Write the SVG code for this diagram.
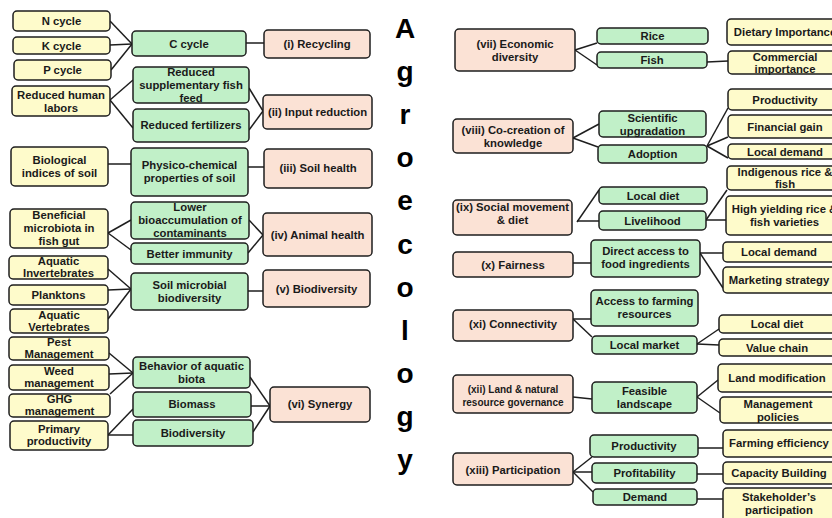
<svg xmlns="http://www.w3.org/2000/svg" width="832" height="518" viewBox="0 0 832 518">
<style>
rect{stroke:#1e1e1e;stroke-width:1.5;rx:4;ry:4}
.y{fill:#FEFBCB}
.g{fill:#C1F0C8}
.p{fill:#FBE2D5}
text{font-family:"Liberation Sans",Arial,sans-serif;font-weight:bold;font-size:11.3px;fill:#1a1a1a;text-anchor:middle;dominant-baseline:central}
.sm{font-size:10px}
.big{font-size:28px;fill:#000;dominant-baseline:auto}
#connectors line{stroke:#1e1e1e;stroke-width:1.5}
</style>
<rect x="0" y="0" width="832" height="518" fill="#fff" style="stroke:none"/>
<g id="connectors">
<line x1="110" y1="21" x2="132" y2="44"/><line x1="110" y1="45" x2="132" y2="44"/><line x1="111" y1="70" x2="132" y2="44"/>
<line x1="246" y1="43" x2="264" y2="43"/>
<line x1="110" y1="100" x2="133" y2="80"/><line x1="110" y1="100" x2="133" y2="128"/>
<line x1="249" y1="88" x2="263" y2="111"/><line x1="249" y1="130" x2="263" y2="111"/>
<line x1="108" y1="164" x2="131" y2="164"/><line x1="248" y1="167" x2="264" y2="167"/>
<line x1="108" y1="233" x2="131" y2="220"/><line x1="108" y1="233" x2="131" y2="250"/>
<line x1="249" y1="220" x2="263" y2="235"/><line x1="248" y1="253" x2="263" y2="235"/>
<line x1="108" y1="269" x2="131" y2="289"/><line x1="108" y1="290" x2="131" y2="289"/><line x1="108" y1="319" x2="131" y2="289"/>
<line x1="248" y1="291" x2="263" y2="291"/>
<line x1="109" y1="353" x2="133" y2="373"/><line x1="109" y1="374" x2="133" y2="373"/><line x1="110" y1="394" x2="133" y2="373"/>
<line x1="250" y1="377" x2="270" y2="406"/><line x1="251" y1="406" x2="270" y2="406"/><line x1="253" y1="432" x2="270" y2="406"/>
<line x1="108" y1="435" x2="133" y2="409"/><line x1="108" y1="435" x2="133" y2="435"/>
<line x1="575" y1="50" x2="597" y2="43"/><line x1="575" y1="50" x2="597" y2="65"/>
<line x1="707" y1="62" x2="728" y2="61"/>
<line x1="573" y1="138" x2="599" y2="124"/><line x1="573" y1="138" x2="598" y2="147"/>
<line x1="707" y1="146" x2="728" y2="108"/><line x1="707" y1="146" x2="728" y2="137"/><line x1="707" y1="146" x2="728" y2="158"/>
<line x1="577" y1="222" x2="599" y2="190"/><line x1="577" y1="221" x2="599" y2="221"/>
<line x1="706" y1="220" x2="727" y2="190"/><line x1="706" y1="220" x2="726" y2="220"/>
<line x1="573" y1="263" x2="591" y2="263"/>
<line x1="700" y1="253" x2="723" y2="253"/><line x1="700" y1="253" x2="723" y2="288"/>
<line x1="568" y1="319" x2="593" y2="319"/><line x1="573" y1="319" x2="592" y2="337"/>
<line x1="697" y1="344" x2="719" y2="329"/><line x1="697" y1="344" x2="719" y2="345"/>
<line x1="573" y1="397" x2="592" y2="399"/>
<line x1="697" y1="397" x2="718" y2="380"/><line x1="697" y1="397" x2="720" y2="413"/>
<line x1="573" y1="472" x2="592" y2="457"/><line x1="573" y1="472" x2="592" y2="472"/><line x1="573" y1="472" x2="593" y2="492"/>
<line x1="698" y1="448" x2="723" y2="448"/><line x1="697" y1="474" x2="723" y2="474"/><line x1="697" y1="499" x2="723" y2="499"/>
</g>
<g id="n-cycle"><rect class="y" x="13" y="11" width="97" height="20"/><text x="61.5" y="21">N cycle</text></g>
<g id="k-cycle"><rect class="y" x="13" y="37" width="97" height="17"/><text x="61.5" y="45.5">K cycle</text></g>
<g id="p-cycle"><rect class="y" x="14" y="60" width="97" height="20"/><text x="62.5" y="70">P cycle</text></g>
<g id="reduced-human-labors"><rect class="y" x="12" y="86" width="98" height="30"/><text><tspan x="61" y="94.5">Reduced human</tspan><tspan x="61" y="107.5">labors</tspan></text></g>
<g id="biological-indices"><rect class="y" x="11" y="147" width="97" height="39"/><text><tspan x="59.5" y="159.5">Biological</tspan><tspan x="59.5" y="172.5">indices of soil</tspan></text></g>
<g id="beneficial-microbiota"><rect class="y" x="10" y="209" width="98" height="39"/><text><tspan x="59" y="215">Beneficial</tspan><tspan x="59" y="228">microbiota in</tspan><tspan x="59" y="241">fish gut</tspan></text></g>
<g id="aquatic-invertebrates"><rect class="y" x="9" y="256" width="99" height="23"/><text><tspan x="58.5" y="261">Aquatic</tspan><tspan x="58.5" y="273">Invertebrates</tspan></text></g>
<g id="planktons"><rect class="y" x="9" y="285" width="99" height="20"/><text x="58.5" y="295">Planktons</text></g>
<g id="aquatic-vertebrates"><rect class="y" x="10" y="309" width="98" height="24"/><text><tspan x="59" y="315">Aquatic</tspan><tspan x="59" y="327">Vertebrates</tspan></text></g>
<g id="pest-management"><rect class="y" x="9" y="337" width="100" height="23"/><text><tspan x="59" y="342">Pest</tspan><tspan x="59" y="354">Management</tspan></text></g>
<g id="weed-management"><rect class="y" x="9" y="365" width="100" height="25"/><text><tspan x="59" y="371">Weed</tspan><tspan x="59" y="383">management</tspan></text></g>
<g id="ghg-management"><rect class="y" x="9" y="394" width="101" height="23"/><text><tspan x="59.5" y="399">GHG</tspan><tspan x="59.5" y="411">management</tspan></text></g>
<g id="primary-productivity"><rect class="y" x="10" y="421" width="98" height="29"/><text><tspan x="59" y="429">Primary</tspan><tspan x="59" y="441">productivity</tspan></text></g>
<g id="c-cycle"><rect class="g" x="132" y="31" width="114" height="25"/><text x="189" y="43.5">C cycle</text></g>
<g id="reduced-fish-feed"><rect class="g" x="133" y="67" width="116" height="36"/><text><tspan x="191" y="72">Reduced</tspan><tspan x="191" y="85">supplementary fish</tspan><tspan x="191" y="98">feed</tspan></text></g>
<g id="reduced-fertilizers"><rect class="g" x="133" y="109" width="116" height="33"/><text x="191" y="125">Reduced fertilizers</text></g>
<g id="physico-chemical"><rect class="g" x="131" y="148" width="117" height="48"/><text><tspan x="189.5" y="165">Physico-chemical</tspan><tspan x="189.5" y="178">properties of soil</tspan></text></g>
<g id="lower-bioaccumulation"><rect class="g" x="131" y="202" width="118" height="37"/><text><tspan x="190" y="207">Lower</tspan><tspan x="190" y="220">bioaccumulation of</tspan><tspan x="190" y="233">contaminants</tspan></text></g>
<g id="better-immunity"><rect class="g" x="131" y="243" width="117" height="21"/><text x="189.5" y="253.5">Better immunity</text></g>
<g id="soil-microbial"><rect class="g" x="131" y="273" width="117" height="37"/><text><tspan x="189.5" y="284.5">Soil microbial</tspan><tspan x="189.5" y="297.5">biodiversity</tspan></text></g>
<g id="behavior-aquatic-biota"><rect class="g" x="133" y="357" width="117" height="31"/><text><tspan x="191.5" y="365.5">Behavior of aquatic</tspan><tspan x="191.5" y="378.5">biota</tspan></text></g>
<g id="biomass"><rect class="g" x="133" y="392" width="118" height="25"/><text x="192" y="404">Biomass</text></g>
<g id="biodiversity-g"><rect class="g" x="133" y="420" width="120" height="26"/><text x="193" y="432.5">Biodiversity</text></g>
<g id="recycling"><rect class="p" x="264" y="30" width="106" height="28"/><text x="317" y="44">(i) Recycling</text></g>
<g id="input-reduction"><rect class="p" x="263" y="95" width="109" height="34"/><text x="317.5" y="112">(ii) Input reduction</text></g>
<g id="soil-health"><rect class="p" x="264" y="149" width="108" height="39"/><text x="318" y="168">(iii) Soil health</text></g>
<g id="animal-health"><rect class="p" x="263" y="213" width="109" height="43"/><text x="317.5" y="234.5">(iv) Animal health</text></g>
<g id="biodiversity-p"><rect class="p" x="263" y="270" width="107" height="37"/><text x="316.5" y="288.5">(v) Biodiversity</text></g>
<g id="synergy"><rect class="p" x="270" y="387" width="100" height="35"/><text x="320" y="404">(vi) Synergy</text></g>
<g id="title"><text class="big"><tspan x="405" y="38">A</tspan><tspan x="405" y="81.1">g</tspan><tspan x="405" y="124.2">r</tspan><tspan x="405" y="167.3">o</tspan><tspan x="405" y="210.4">e</tspan><tspan x="405" y="253.5">c</tspan><tspan x="405" y="296.6">o</tspan><tspan x="405" y="339.7">l</tspan><tspan x="405" y="382.8">o</tspan><tspan x="405" y="425.9">g</tspan><tspan x="405" y="469">y</tspan></text></g>
<g id="economic-diversity"><rect class="p" x="455" y="29" width="120" height="42"/><text><tspan x="515" y="43.5">(vii) Economic</tspan><tspan x="515" y="56.5">diversity</tspan></text></g>
<g id="co-creation"><rect class="p" x="453" y="119" width="120" height="34"/><text><tspan x="513" y="129.5">(viii) Co-creation of</tspan><tspan x="513" y="142.5">knowledge</tspan></text></g>
<g id="social-movement"><rect class="p" x="453" y="200" width="119" height="35"/><text><tspan x="512.5" y="206.5">(ix) Social movement</tspan><tspan x="512.5" y="219.5">&amp; diet</tspan></text></g>
<g id="fairness"><rect class="p" x="453" y="252" width="120" height="25"/><text x="513" y="264.5">(x) Fairness</text></g>
<g id="connectivity"><rect class="p" x="453" y="310" width="120" height="31"/><text x="513" y="324">(xi) Connectivity</text></g>
<g id="land-governance"><rect class="p" x="453" y="375" width="120" height="38"/><text class="sm"><tspan x="513" y="388.5">(xii) Land &amp; natural</tspan><tspan x="513" y="401.5">resource governance</tspan></text></g>
<g id="participation"><rect class="p" x="453" y="453" width="120" height="32"/><text x="513" y="470">(xiii) Participation</text></g>
<g id="rice"><rect class="g" x="597" y="28" width="111" height="16"/><text x="652.5" y="36">Rice</text></g>
<g id="fish"><rect class="g" x="597" y="52" width="110" height="16"/><text x="652" y="60">Fish</text></g>
<g id="scientific-upgradation"><rect class="g" x="599" y="111" width="107" height="26"/><text><tspan x="652.5" y="117.5">Scientific</tspan><tspan x="652.5" y="130.5">upgradation</tspan></text></g>
<g id="adoption"><rect class="g" x="598" y="145" width="109" height="18"/><text x="652.5" y="154">Adoption</text></g>
<g id="local-diet-g"><rect class="g" x="599" y="187" width="108" height="17"/><text x="653" y="195.5">Local diet</text></g>
<g id="livelihood"><rect class="g" x="599" y="211" width="107" height="19"/><text x="652.5" y="220.5">Livelihood</text></g>
<g id="direct-access"><rect class="g" x="591" y="240" width="109" height="37"/><text><tspan x="645.5" y="251">Direct access to</tspan><tspan x="645.5" y="264">food ingredients</tspan></text></g>
<g id="access-farming"><rect class="g" x="591" y="290" width="107" height="36"/><text><tspan x="644.5" y="301">Access to farming</tspan><tspan x="644.5" y="314">resources</tspan></text></g>
<g id="local-market"><rect class="g" x="592" y="336" width="105" height="18"/><text x="644.5" y="345">Local market</text></g>
<g id="feasible-landscape"><rect class="g" x="592" y="382" width="105" height="31"/><text><tspan x="644.5" y="390.5">Feasible</tspan><tspan x="644.5" y="403.5">landscape</tspan></text></g>
<g id="productivity-g"><rect class="g" x="590" y="435" width="108" height="22"/><text x="644" y="446">Productivity</text></g>
<g id="profitability"><rect class="g" x="592" y="463" width="105" height="20"/><text x="644.5" y="473">Profitability</text></g>
<g id="demand"><rect class="g" x="593" y="489" width="104" height="16"/><text x="645" y="497">Demand</text></g>
<g id="dietary-importance"><rect class="y" x="727" y="19" width="116" height="26"/><text x="785" y="32">Dietary Importance</text></g>
<g id="commercial-importance"><rect class="y" x="728" y="51" width="115" height="23"/><text><tspan x="785" y="56.5">Commercial</tspan><tspan x="785" y="68.5">importance</tspan></text></g>
<g id="productivity-y"><rect class="y" x="728" y="89" width="115" height="21"/><text x="785" y="99.5">Productivity</text></g>
<g id="financial-gain"><rect class="y" x="728" y="115" width="115" height="23"/><text x="785" y="126.5">Financial gain</text></g>
<g id="local-demand-1"><rect class="y" x="728" y="144" width="115" height="15"/><text x="785" y="151.5">Local demand</text></g>
<g id="indigenous"><rect class="y" x="727" y="166" width="116" height="24"/><text><tspan x="785" y="172">Indigenous rice &amp;</tspan><tspan x="785" y="184">fish</tspan></text></g>
<g id="high-yielding"><rect class="y" x="726" y="196" width="117" height="39"/><text><tspan x="784.5" y="208.5">High yielding rice &amp;</tspan><tspan x="784.5" y="221.5">fish varieties</tspan></text></g>
<g id="local-demand-2"><rect class="y" x="723" y="242" width="112" height="20"/><text x="779" y="252">Local demand</text></g>
<g id="marketing-strategy"><rect class="y" x="723" y="267" width="112" height="26"/><text x="779" y="280">Marketing strategy</text></g>
<g id="local-diet-y"><rect class="y" x="719" y="315" width="116" height="18"/><text x="777" y="324">Local diet</text></g>
<g id="value-chain"><rect class="y" x="719" y="339" width="116" height="17"/><text x="777" y="347.5">Value chain</text></g>
<g id="land-modification"><rect class="y" x="718" y="364" width="117" height="28"/><text x="777" y="377.5">Land modification</text></g>
<g id="management-policies"><rect class="y" x="720" y="397" width="115" height="26"/><text><tspan x="778" y="404">Management</tspan><tspan x="778" y="416.5">policies</tspan></text></g>
<g id="farming-efficiency"><rect class="y" x="723" y="430" width="112" height="27"/><text x="779" y="443">Farming efficiency</text></g>
<g id="capacity-building"><rect class="y" x="723" y="462" width="112" height="22"/><text x="779" y="473">Capacity Building</text></g>
<g id="stakeholder"><rect class="y" x="723" y="488" width="112" height="35"/><text><tspan x="779" y="496.5">Stakeholder’s</tspan><tspan x="779" y="509.5">participation</tspan></text></g>
</svg>
